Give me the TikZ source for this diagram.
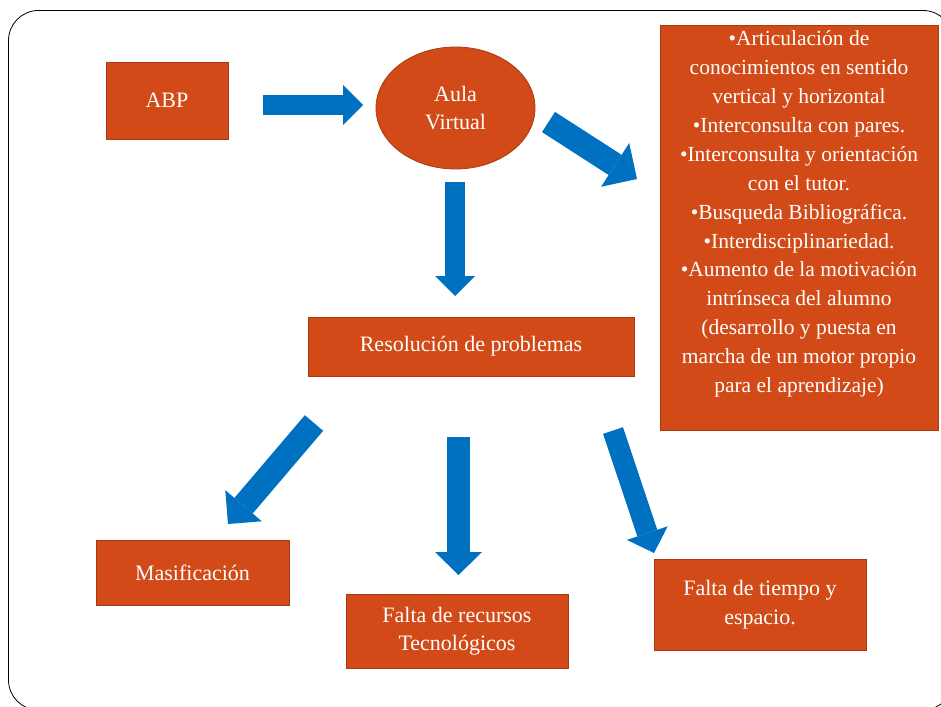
\documentclass[tikz,border=0pt]{standalone}
\usepackage{fontspec}
\setmainfont{Liberation Serif}
\usetikzlibrary{arrows.meta,shapes.geometric}
\definecolor{boxfill}{RGB}{209,74,23}
\definecolor{boxborder}{RGB}{170,58,18}
\definecolor{arrowblue}{RGB}{0,112,192}
\newcommand\fsz[2]{\fontsize{#1pt}{#2pt}\selectfont}
\tikzset{
  box/.style={draw=boxborder, fill=boxfill, line width=0.8pt, text=white,
    inner sep=0pt, align=center, font=\fsz{22}{28.5}},
  barrow/.style n args={3}{draw=arrowblue, line width=#1,
    -{Triangle[length=#3, width=#2, line width=0pt, fill=arrowblue]}},
  frame/.style={draw=black, line width=0.8pt, rounded corners=30pt}
}
\begin{document}
\begin{tikzpicture}[x=1pt,y=-1pt]
\useasboundingbox (0,0) rectangle (941,706);
\clip (0,0) rectangle (941,706);
\fill[white] (0,0) rectangle (941,706);
\draw[frame] (8.5,10.5) rectangle (953,710);

% nodes
\node[box, minimum width=122pt, minimum height=77pt] (abp) at (167,100.5) {ABP};
\node[box, ellipse, minimum width=159pt, minimum height=122pt] (aula) at (455.5,108) {Aula\\Virtual};
\node[box, minimum width=326pt, minimum height=59pt] (res) at (471,346.5) {Resolución de problemas};
\node[box, minimum width=278pt, minimum height=405pt] (rbox) at (799,227.5) {};
\node[text=white, inner sep=0pt, align=center, font=\fsz{21.5}{28.9}] (rtext) at (799,214)
  {•Articulación de\\conocimientos en sentido\\vertical y horizontal\\•Interconsulta con pares.\\•Interconsulta y orientación\\con el tutor.\\•Busqueda Bibliográfica.\\•Interdisciplinariedad.\\•Aumento de la motivación\\intrínseca del alumno\\(desarrollo y puesta en\\marcha de un motor propio\\para el aprendizaje)};
\node[box, minimum width=193pt, minimum height=65pt] (mas) at (192.5,572.5) {Masificación};
\node[box, minimum width=222pt, minimum height=74pt] (rec) at (457,631) {Falta de recursos\\Tecnológicos};
\node[box, minimum width=212pt, minimum height=91pt] (tie) at (760,604.5) {Falta de tiempo y\\espacio.};

% arrow end points
\coordinate (a1s) at (263,105);   \coordinate (a1e) at (363,105);
\coordinate (a2s) at (455,182);   \coordinate (a2e) at (455,296);
\coordinate (a3s) at (548.5,122); \coordinate (a3e) at (637,179);
\coordinate (a4s) at (314,423);   \coordinate (a4e) at (228,524);
\coordinate (a5s) at (458.5,437); \coordinate (a5e) at (458.5,575);
\coordinate (a6s) at (613,430.5); \coordinate (a6e) at (654,553);

\draw[barrow={20pt}{40pt}{20pt}] (a1s) -- (a1e);
\draw[barrow={20pt}{40pt}{20pt}] (a2s) -- (a2e);
\draw[barrow={24pt}{52pt}{26pt}] (a3s) -- (a3e);
\draw[barrow={24pt}{48pt}{24pt}] (a4s) -- (a4e);
\draw[barrow={23pt}{47pt}{23pt}] (a5s) -- (a5e);
\draw[barrow={21pt}{43pt}{21pt}] (a6s) -- (a6e);
\end{tikzpicture}
\end{document}
